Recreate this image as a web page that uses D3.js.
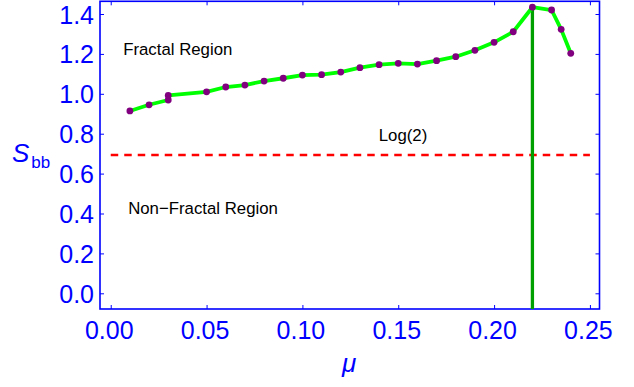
<!DOCTYPE html>
<html>
<head>
<meta charset="utf-8">
<script src="https://cdn.jsdelivr.net/npm/d3@7"></script>
<style>
  html, body { margin: 0; padding: 0; background: #fff; }
  svg { display: block; }
  text { font-family: "Liberation Sans", Arial, sans-serif; }
</style>
</head>
<body>
<svg id="chart" width="634" height="387"></svg>
<script>
// ---- data ----
const mu  = [0.01, 0.02, 0.03, 0.03, 0.05, 0.06, 0.07, 0.08, 0.09, 0.10, 0.11, 0.12, 0.13,
             0.14, 0.15, 0.16, 0.17, 0.18, 0.19, 0.20, 0.21, 0.22, 0.23, 0.235, 0.24];
const sbb = [0.914, 0.945, 0.969, 0.992, 1.010, 1.034, 1.044, 1.064, 1.078, 1.094, 1.096, 1.109, 1.131,
             1.146, 1.153, 1.149, 1.166, 1.186, 1.218, 1.258, 1.311, 1.434, 1.420, 1.323, 1.203];
const xTicks = [0.00, 0.05, 0.10, 0.15, 0.20, 0.25];
const yTicks = [0.0, 0.2, 0.4, 0.6, 0.8, 1.0, 1.2, 1.4];
const log2Value = Math.log(2);
const log2Range = [0.0, 0.25];
const criticalMu = 0.22;
const criticalS = 1.434;
const regionLabels = [
  { text: "Fractal Region", x: 0.0065, y: 1.195, anchor: "start" },
  { text: "Log(2)", x: 0.1525, y: 0.762, anchor: "middle" },
  { text: "Non\u2212Fractal Region", x: 0.0091, y: 0.400, anchor: "start" }
];

// ---- layout ----
const svg = d3.select("#chart");
const L = 100, R = 599.5, T = 1.3, B = 309;
const x = d3.scaleLinear().domain([-0.0056, 0.2550]).range([L, R]);
const y = d3.scaleLinear().domain([-0.0787, 1.4637]).range([B, T]);
const blue = "#0000ff";

// frame
svg.append("rect")
  .attr("x", L).attr("y", T).attr("width", R - L).attr("height", B - T)
  .attr("fill", "none").attr("stroke", blue).attr("stroke-width", 1.6);

// axes (ticks inside)
const tickLen = 4;
const bottomAxis = d3.axisBottom(x).tickValues(xTicks).tickFormat(d3.format(".2f"))
  .tickSizeInner(-tickLen).tickSizeOuter(0).tickPadding(12);
const gB = svg.append("g").attr("transform", `translate(0,${B})`).call(bottomAxis);
const leftAxis = d3.axisLeft(y).tickValues(yTicks).tickFormat(d3.format(".1f"))
  .tickSizeInner(-tickLen).tickSizeOuter(0).tickPadding(6);
const gL = svg.append("g").attr("transform", `translate(${L},0)`).call(leftAxis);
const gT = svg.append("g").attr("transform", `translate(0,${T})`)
  .call(d3.axisTop(x).tickValues(xTicks).tickFormat("").tickSizeInner(-tickLen).tickSizeOuter(0));
const gR = svg.append("g").attr("transform", `translate(${R},0)`)
  .call(d3.axisRight(y).tickValues(yTicks).tickFormat("").tickSizeInner(-tickLen).tickSizeOuter(0));
[gB, gL, gT, gR].forEach(g => {
  g.select(".domain").remove();
  g.selectAll("line").attr("stroke", blue).attr("stroke-width", 1);
  g.selectAll("text").attr("fill", blue).style("font-size", "25px")
    .style("font-family", "'Liberation Sans', Arial, sans-serif");
});
gB.selectAll("text").attr("dy", "0.71em").attr("dx", -2);
gL.selectAll("text").attr("dy", "0.36em");

// axis labels
svg.append("text").attr("x", 349).attr("y", 372).attr("text-anchor", "middle")
  .attr("fill", blue).style("font-size", "26px").style("font-style", "italic").text("\u03bc");
const yl = svg.append("text").attr("x", 12).attr("y", 161.5).attr("fill", blue);
yl.append("tspan").style("font-size", "26px").style("font-style", "italic").text("S");
yl.append("tspan").attr("dy", 6).attr("dx", 2).style("font-size", "17px").text("bb");

// red dashed log(2) line
svg.append("line")
  .attr("x1", x(log2Range[0])).attr("x2", x(log2Range[1]))
  .attr("y1", y(log2Value)).attr("y2", y(log2Value))
  .attr("stroke", "#ff0000").attr("stroke-width", 2.6).attr("stroke-dasharray", "7.5,6");

// vertical critical line
svg.append("line")
  .attr("x1", x(criticalMu)).attr("x2", x(criticalMu))
  .attr("y1", y(criticalS)).attr("y2", B)
  .attr("stroke", "#00a000").attr("stroke-width", 3.3);

// data line
const pts = mu.map((m, i) => [m, sbb[i]]);
svg.append("path").datum(pts)
  .attr("d", d3.line().x(d => x(d[0])).y(d => y(d[1])))
  .attr("fill", "none").attr("stroke", "#00ff00").attr("stroke-width", 3.8)
  .attr("stroke-linejoin", "round");
svg.append("g").selectAll("circle").data(pts).join("circle")
  .attr("cx", d => x(d[0])).attr("cy", d => y(d[1])).attr("r", 3.4)
  .attr("fill", "#800080");

// region labels
svg.append("g").selectAll("text").data(regionLabels).join("text")
  .attr("x", d => x(d.x)).attr("y", d => y(d.y)).attr("text-anchor", d => d.anchor)
  .attr("fill", "#000").style("font-size", "16.8px").text(d => d.text);
</script>
</body>
</html>
